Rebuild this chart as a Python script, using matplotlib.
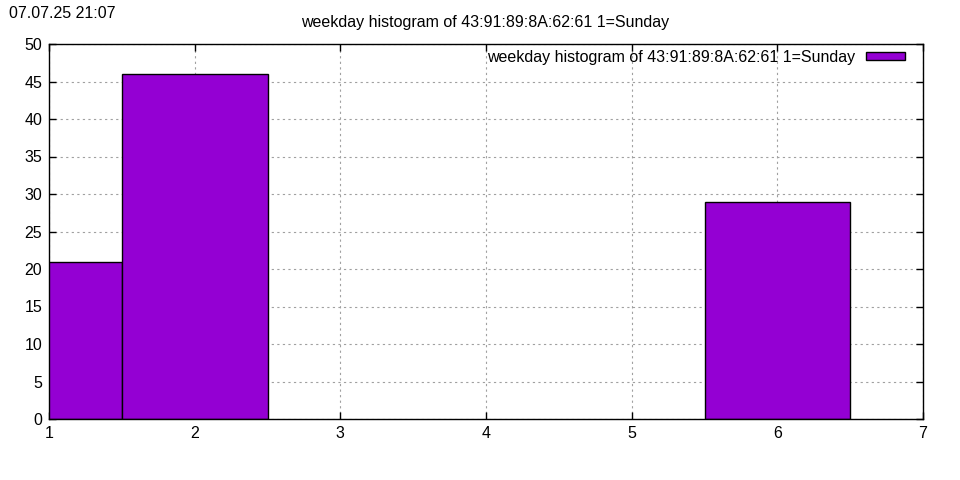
import matplotlib
matplotlib.use('Agg')
import matplotlib.pyplot as plt

plt.rcParams['font.family'] = ['Liberation Sans', 'DejaVu Sans']
plt.rcParams['font.size'] = 11.5

# 数据
weekdays = [1, 2, 6]
counts = [21, 46, 29]
title = 'weekday histogram of 43:91:89:8A:62:61 1=Sunday'
timestamp = '07.07.25 21:07'

fig = plt.figure(figsize=(9.6, 4.8), dpi=100)
ax = fig.add_axes([49 / 960, 1 - 419 / 480, (923 - 49) / 960, (419 - 44) / 480])

ax.bar(weekdays, counts, width=1.0, color='#9400d3', edgecolor='black',
       linewidth=1, label=title, zorder=3)

ax.set_xlim(1, 7)
ax.set_ylim(0, 50)
ax.set_xticks(range(1, 8))
ax.set_yticks(range(0, 51, 5))
ax.tick_params(direction='in', top=True, right=True, length=5, width=1,
               labelsize=11.5, colors='black', pad=5)
ax.grid(True, color='#a0a0a0', linestyle=(0, (2, 3)), linewidth=0.8, zorder=0)
for spine in ax.spines.values():
    spine.set_linewidth(1)
    spine.set_zorder(4)

leg = ax.legend(loc='upper right', frameon=False, markerfirst=False,
                bbox_to_anchor=(1 - 18 / 874, 1 - 6 / 375),
                borderaxespad=0, borderpad=0,
                handlelength=2.45, handleheight=0.4, fontsize=11.5,
                handletextpad=0.7)

fig.text(485 / 960, 1 - 23 / 480, title, ha='center', va='center', fontsize=11.5)
fig.text(9 / 960, 1 - 14 / 480, timestamp, ha='left', va='center', fontsize=11.5)

fig.savefig('out.png', dpi=100)
